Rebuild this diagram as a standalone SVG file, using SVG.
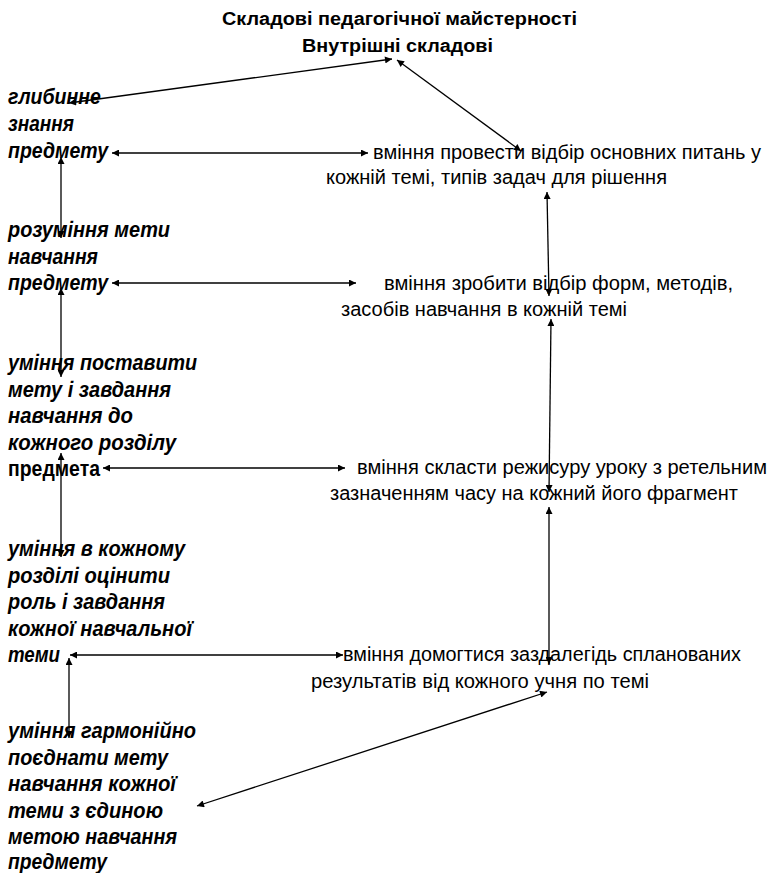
<svg xmlns="http://www.w3.org/2000/svg" width="769" height="873" viewBox="0 0 769 873">
<style>
text{font-family:"Liberation Sans",Arial,sans-serif;fill:#000}
.t{font-size:18px;font-weight:bold}
.l{font-size:22px;font-weight:bold;font-style:italic}
.lb{font-size:22px;font-weight:bold}
.r{font-size:20px}
.c line{stroke:#000;stroke-width:1.3;marker-start:url(#ah);marker-end:url(#ah)}
</style>
<defs>
<marker id="ah" viewBox="0 0 10 10" refX="10" refY="5" markerWidth="9" markerHeight="7" orient="auto-start-reverse" markerUnits="userSpaceOnUse"><path d="M0,0 L10,5 L0,10 z" fill="#000"/></marker>
</defs>
<rect width="769" height="873" fill="#fff"/>
<g id="title">
<text class="t" x="222" y="25" textLength="355" lengthAdjust="spacingAndGlyphs">Складові педагогічної майстерності</text>
<text class="t" x="302" y="52" textLength="191" lengthAdjust="spacingAndGlyphs">Внутрішні  складові</text>
</g>
<g id="left1">
<text class="l" x="8" y="104" textLength="93" lengthAdjust="spacingAndGlyphs">глибинне</text>
<text class="l" x="8" y="131" textLength="66" lengthAdjust="spacingAndGlyphs">знання</text>
<text class="l" x="8" y="158" textLength="100" lengthAdjust="spacingAndGlyphs">предмету</text>
</g>
<g id="left2">
<text class="l" x="8" y="237" textLength="162" lengthAdjust="spacingAndGlyphs">розуміння  мети</text>
<text class="l" x="8" y="264" textLength="90" lengthAdjust="spacingAndGlyphs">навчання</text>
<text class="l" x="8" y="290" textLength="100" lengthAdjust="spacingAndGlyphs">предмету</text>
</g>
<g id="left3">
<text class="l" x="8" y="370" textLength="189" lengthAdjust="spacingAndGlyphs">уміння  поставити</text>
<text class="l" x="8" y="397" textLength="163" lengthAdjust="spacingAndGlyphs">мету і завдання</text>
<text class="l" x="8" y="423" textLength="125" lengthAdjust="spacingAndGlyphs">навчання  до</text>
<text class="l" x="8" y="450" textLength="168" lengthAdjust="spacingAndGlyphs">кожного розділу</text>
<text class="lb" x="8" y="476" textLength="92" lengthAdjust="spacingAndGlyphs">предмета</text>
</g>
<g id="left4">
<text class="l" x="8" y="556" textLength="177" lengthAdjust="spacingAndGlyphs">уміння  в кожному</text>
<text class="l" x="8" y="583" textLength="162" lengthAdjust="spacingAndGlyphs">розділі оцінити</text>
<text class="l" x="8" y="609" textLength="157" lengthAdjust="spacingAndGlyphs">роль і завдання</text>
<text class="l" x="8" y="636" textLength="184" lengthAdjust="spacingAndGlyphs">кожної навчальної</text>
<text class="l" x="8" y="662" textLength="52" lengthAdjust="spacingAndGlyphs">теми</text>
</g>
<g id="left5">
<text class="l" x="8" y="738" textLength="188" lengthAdjust="spacingAndGlyphs">уміння  гармонійно</text>
<text class="l" x="8" y="765" textLength="160" lengthAdjust="spacingAndGlyphs">поєднати  мету</text>
<text class="l" x="8" y="791" textLength="168" lengthAdjust="spacingAndGlyphs">навчання  кожної</text>
<text class="l" x="8" y="818" textLength="155" lengthAdjust="spacingAndGlyphs">теми  з єдиною</text>
<text class="l" x="8" y="844" textLength="169" lengthAdjust="spacingAndGlyphs">метою навчання</text>
<text class="l" x="8" y="869" textLength="99" lengthAdjust="spacingAndGlyphs">предмету</text>
</g>
<g id="right1">
<text class="r" x="373" y="159" textLength="388" lengthAdjust="spacingAndGlyphs">вміння провести відбір  основних питань у</text>
<text class="r" x="326" y="184" textLength="341" lengthAdjust="spacingAndGlyphs">кожній темі, типів задач  для рішення</text>
</g>
<g id="right2">
<text class="r" x="384" y="290" textLength="349" lengthAdjust="spacingAndGlyphs">вміння зробити  відбір форм, методів,</text>
<text class="r" x="341" y="316" textLength="286" lengthAdjust="spacingAndGlyphs">засобів  навчання  в кожній темі</text>
</g>
<g id="right3">
<text class="r" x="357" y="474" textLength="410" lengthAdjust="spacingAndGlyphs">вміння  скласти  режисуру уроку з ретельним</text>
<text class="r" x="330" y="500" textLength="408" lengthAdjust="spacingAndGlyphs">зазначенням  часу на кожний його фрагмент</text>
</g>
<g id="right4">
<text class="r" x="343" y="661" textLength="398" lengthAdjust="spacingAndGlyphs">вміння домогтися  заздалегідь  спланованих</text>
<text class="r" x="311" y="688" textLength="338" lengthAdjust="spacingAndGlyphs">результатів  від кожного учня по темі</text>
</g>
<g id="connectors" class="c">
<line x1="69" y1="103" x2="392" y2="59"/>
<line x1="397" y1="60" x2="521" y2="151"/>
<line x1="112" y1="153" x2="368" y2="153"/>
<line x1="61" y1="157" x2="61" y2="238"/>
<line x1="547" y1="192" x2="549" y2="296"/>
<line x1="112" y1="283" x2="356" y2="283"/>
<line x1="61" y1="288" x2="61" y2="377"/>
<line x1="551" y1="319" x2="549" y2="492"/>
<line x1="103" y1="468" x2="345" y2="468"/>
<line x1="61" y1="453" x2="61" y2="557"/>
<line x1="549" y1="507" x2="549" y2="664"/>
<line x1="70" y1="655" x2="343" y2="655"/>
<line x1="69" y1="658" x2="69" y2="738"/>
<line x1="547" y1="692" x2="197" y2="806"/>
</g>
</svg>
